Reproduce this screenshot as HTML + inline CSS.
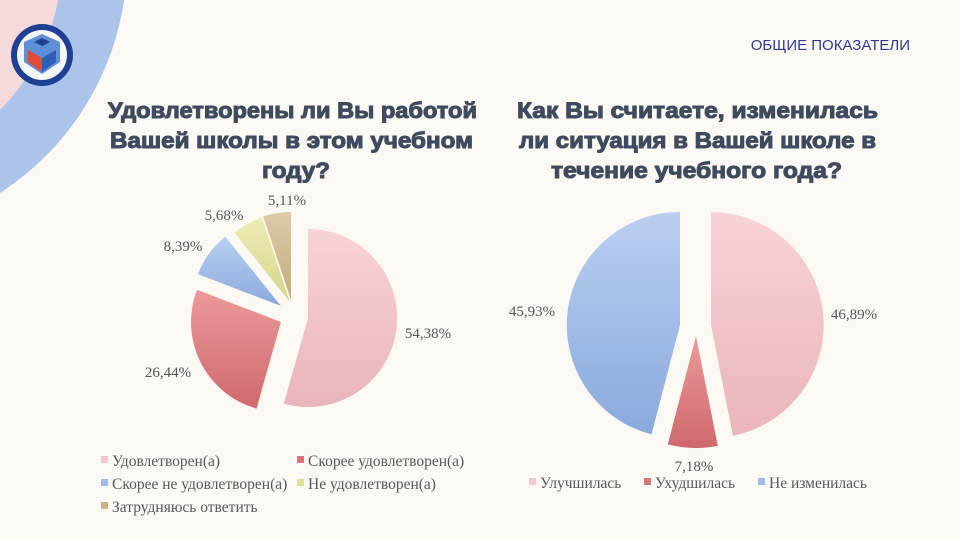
<!DOCTYPE html>
<html><head><meta charset="utf-8"><style>
body{margin:0;width:960px;height:540px;overflow:hidden;background:#fcf9f5;font-family:"Liberation Serif",serif;}
</style></head><body>
<svg id="s" width="960" height="540" xmlns="http://www.w3.org/2000/svg" style="position:absolute;left:0;top:0">
<defs>
<linearGradient id="gp" x1="0" y1="0" x2="0" y2="1"><stop offset="0" stop-color="#f8d3d6"/><stop offset="1" stop-color="#e8b5ba"/></linearGradient>
<linearGradient id="gr" x1="0" y1="0" x2="0" y2="1"><stop offset="0" stop-color="#eb9a9a"/><stop offset="1" stop-color="#d0696e"/></linearGradient>
<linearGradient id="gb" x1="0" y1="0" x2="0" y2="1"><stop offset="0" stop-color="#b9cff0"/><stop offset="1" stop-color="#8aa9dc"/></linearGradient>
<linearGradient id="gy" x1="0" y1="0" x2="0" y2="1"><stop offset="0" stop-color="#ecedb6"/><stop offset="1" stop-color="#d4d68a"/></linearGradient>
<linearGradient id="gt" x1="0" y1="0" x2="0" y2="1"><stop offset="0" stop-color="#dccba6"/><stop offset="1" stop-color="#c2ad80"/></linearGradient>
</defs>
<circle cx="-150" cy="-40" r="277" fill="#adc4ea"/>
<circle cx="-150" cy="-40" r="212" fill="#f6dadb"/>
<circle cx="42" cy="55" r="31" fill="#1f3f92"/>
<circle cx="42" cy="55" r="25" fill="#f4f6fb"/>
<path d="M24 42 L42 34 L60 42 L60 62 L42 74 L24 62 Z" fill="#5f8fd8"/>
<path d="M28 50 L42 58 L42 72 L28 62 Z" fill="#e04a36"/>
<path d="M56 50 L42 58 L42 72 L56 62 Z" fill="#2f5fb8"/>
<path d="M34 42 L42 38 L50 42 L42 46 Z" fill="#1f3f92"/>
<g id="pies"></g>
<g font-family="Liberation Serif, serif" font-size="15" fill="#555">
<text x="287" y="205" text-anchor="middle">5,11%</text>
<text x="224" y="220" text-anchor="middle">5,68%</text>
<text x="183" y="251" text-anchor="middle">8,39%</text>
<text x="428" y="338" text-anchor="middle">54,38%</text>
<text x="168" y="377" text-anchor="middle">26,44%</text>
<text x="854" y="319" text-anchor="middle">46,89%</text>
<text x="532" y="316" text-anchor="middle">45,93%</text>
<text x="694" y="471" text-anchor="middle">7,18%</text>
</g>
<g font-family="Liberation Serif, serif" font-size="15.5" fill="#595959">
<rect x="101" y="456" width="7" height="7" fill="#f4c9cd"/><text x="112" y="466">Удовлетворен(а)</text>
<rect x="297" y="456" width="7" height="7" fill="#d6767a"/><text x="308" y="466">Скорее удовлетворен(а)</text>
<rect x="101" y="479" width="7" height="7" fill="#9fbbe8"/><text x="112" y="489">Скорее не удовлетворен(а)</text>
<rect x="297" y="479" width="7" height="7" fill="#e0e29c"/><text x="308" y="489">Не удовлетворен(а)</text>
<rect x="101" y="502" width="7" height="7" fill="#c8b486"/><text x="112" y="512">Затрудняюсь ответить</text>
<rect x="529" y="478" width="7" height="7" fill="#f4c9cd"/><text x="540" y="488">Улучшилась</text>
<rect x="644" y="478" width="7" height="7" fill="#d6767a"/><text x="655" y="488">Ухудшилась</text>
<rect x="758" y="478" width="7" height="7" fill="#9fbbe8"/><text x="769" y="488">Не изменилась</text>
</g>
<g font-family="Liberation Sans, sans-serif" font-weight="bold" font-size="22" fill="#3e4a5e" stroke="#3e4a5e" stroke-width="1" lengthAdjust="spacingAndGlyphs">
<text x="108" y="118" textLength="369" lengthAdjust="spacingAndGlyphs">Удовлетворены ли Вы работой</text>
<text x="110" y="148" textLength="363" lengthAdjust="spacingAndGlyphs">Вашей школы в этом учебном</text>
<text x="262" y="178" textLength="68" lengthAdjust="spacingAndGlyphs">году?</text>
<text x="517" y="118" textLength="361" lengthAdjust="spacingAndGlyphs">Как Вы считаете, изменилась</text>
<text x="519" y="148" textLength="357" lengthAdjust="spacingAndGlyphs">ли ситуация в Вашей школе в</text>
<text x="551" y="178" textLength="291" lengthAdjust="spacingAndGlyphs">течение учебного года?</text>
</g>
<text x="910" y="50" text-anchor="end" font-family="Liberation Sans, sans-serif" font-size="15" fill="#2b3c8e">ОБЩИЕ ПОКАЗАТЕЛИ</text>
</svg>
<script>
function sl(cx,cy,r,a0,a1,fill){
 const f=a=>[cx+r*Math.sin(a*Math.PI/180),cy-r*Math.cos(a*Math.PI/180)];
 const p0=f(a0),p1=f(a1);const large=(a1-a0)>180?1:0;
 return `<path d="M${cx} ${cy} L${p0[0].toFixed(1)} ${p0[1].toFixed(1)} A${r} ${r} 0 ${large} 1 ${p1[0].toFixed(1)} ${p1[1].toFixed(1)} Z" fill="${fill}"/>`;
}
let h='';
h+=sl(308,318,89,0,195.8,'url(#gp)');
h+=sl(281,322,90,195.8,291,'url(#gr)');
h+=sl(281,306,89,291,321.2,'url(#gb)');
h+=sl(290,302,89,321.2,341.6,'url(#gy)');
h+=sl(291,300,88,341.6,360,'url(#gt)');
h+=sl(711,325,113,0,168.8,'url(#gp)');
h+=sl(696,336,112,168.8,194.6,'url(#gr)');
h+=sl(680,325,113,194.6,360,'url(#gb)');
document.getElementById('pies').innerHTML=h;
</script>
</body></html>
